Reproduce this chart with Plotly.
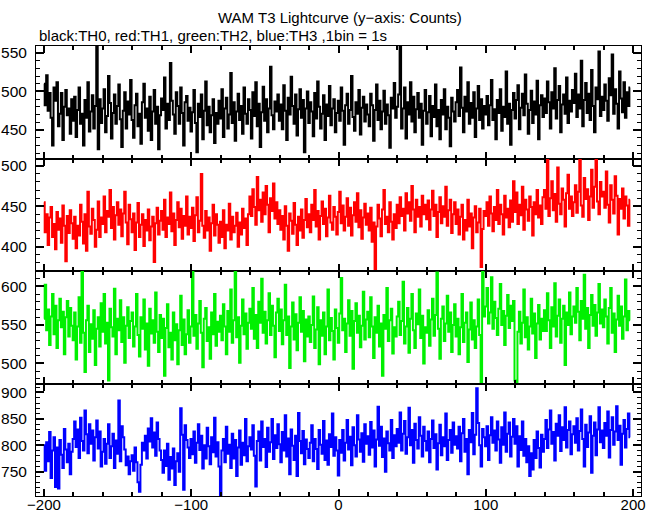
import numpy as np
import plotly.graph_objects as go

T_START = -200  # first bin time (s), 1 bin = 1 s

th0 = [
510, 482, 521, 475, 498, 466, 430, 505, 488, 512, 455, 471, 498, 437, 480, 502, 469, 478, 445, 490,
462, 493, 441, 476, 505, 458, 471, 430, 489, 466, 512, 448, 474, 495, 452, 481, 562, 425, 490, 459,
478, 503, 447, 468, 520, 485, 439, 472, 496, 458, 481, 509, 464, 428, 475, 499, 452, 487, 470, 515,
463, 440, 482, 497, 455, 471, 432, 486, 510, 466, 478, 449, 493, 437, 474, 502, 458, 480, 425, 469,
491, 476, 518, 452, 484, 463, 537, 488, 470, 445, 499, 481, 458, 505, 472, 430, 486, 494, 462, 479,
448, 473, 502, 459, 421, 484, 467, 496, 438, 475, 513, 456, 480, 447, 469, 490, 433, 472, 458, 488,
465, 503, 441, 478, 492, 452, 470, 524, 459, 486, 436, 474, 497, 463, 481, 445, 505, 471, 458, 490,
476, 439, 499, 468, 512, 455, 484, 428, 473, 506, 462, 490, 447, 478, 532, 469, 451, 487, 474, 496,
462, 483, 451, 508, 475, 437, 492, 470, 519, 481, 458, 496, 443, 477, 503, 466, 489, 421, 478, 500,
459, 486, 474, 442, 498, 465, 513, 480, 452, 471, 495, 437, 483, 468, 507, 456, 478, 490, 447, 472,
488, 462, 505, 475, 431, 482, 497, 458, 476, 520, 467, 449, 486, 471, 502, 444, 479, 493, 461, 483,
470, 455, 497, 482, 436, 476, 509, 463, 488, 451, 474, 501, 458, 483, 469, 427, 492, 478, 511, 466,
480, 496, 563, 452, 478, 505, 439, 486, 470, 512, 461, 493, 447, 477, 498, 466, 484, 431, 475, 502,
458, 473, 494, 442, 481, 467, 509, 455, 476, 438, 489, 470, 503, 451, 480, 466, 429, 492, 474, 461,
486, 502, 468, 531, 479, 447, 493, 474, 512, 458, 485, 466, 499, 441, 478, 507, 463, 490, 452, 481,
470, 494, 456, 482, 515, 463, 477, 438, 489, 472, 503, 449, 480, 467, 526, 458, 484, 431, 476, 498,
465, 489, 508, 451, 479, 497, 469, 522, 484, 445, 476, 501, 459, 487, 470, 514, 438, 482, 495, 467,
491, 472, 513, 486, 452, 499, 478, 530, 465, 489, 507, 447, 483, 496, 471, 518, 459, 488, 474, 502,
485, 523, 467, 496, 478, 540, 455, 489, 511, 472, 497, 463, 528, 481, 447, 505, 490, 552, 468, 493,
476, 509, 488, 462, 517, 495, 548, 471, 503, 484, 452, 526, 491, 473, 512, 466, 499, 481, 505,
]

th1 = [
455, 418, 440, 402, 436, 449, 412, 428, 397, 443, 421, 435, 405, 451, 426, 382, 438, 417, 445, 429,
410, 437, 398, 426, 414, 452, 431, 404, 440, 395, 468, 425, 416, 447, 433, 400, 421, 456, 412, 436,
428, 462, 418, 444, 437, 470, 423, 449, 409, 439, 455, 427, 446, 413, 441, 468, 430, 403, 452, 434,
418, 441, 396, 430, 454, 412, 427, 440, 401, 433, 420, 446, 408, 425, 437, 381, 429, 448, 415, 432,
444, 421, 458, 412, 436, 428, 467, 419, 441, 402, 433, 455, 424, 447, 410, 438, 426, 462, 415, 437,
423, 448, 407, 439, 461, 418, 432, 490, 426, 411, 444, 420, 436, 395, 429, 452, 414, 440, 427, 405,
431, 412, 445, 398, 427, 420, 453, 409, 437, 418, 426, 442, 400, 430, 415, 447, 423, 435, 402, 440,
462, 438, 471, 449, 427, 486, 445, 458, 431, 467, 440, 475, 452, 418, 460, 444, 478, 435, 455, 428,
445, 421, 438, 409, 450, 426, 395, 441, 432, 416, 454, 427, 402, 437, 420, 446, 411, 433, 459, 424,
440, 418, 452, 433, 470, 425, 444, 409, 438, 456, 428, 447, 413, 436, 463, 430, 421, 449, 437, 415,
443, 468, 429, 451, 420, 437, 460, 426, 448, 414, 439, 455, 431, 466, 424, 445, 410, 436, 453, 427,
441, 420, 448, 406, 430, 372, 425, 452, 435, 413, 446, 470, 428, 437, 418, 455, 431, 409, 440, 423,
452, 429, 461, 438, 447, 420, 466, 441, 455, 432, 475, 446, 418, 458, 437, 449, 425, 463, 440, 452,
434, 457, 421, 446, 469, 438, 452, 412, 443, 461, 429, 450, 437, 474, 426, 445, 458, 417, 440, 455,
428, 446, 415, 437, 452, 409, 433, 420, 458, 425, 441, 398, 436, 450, 418, 430, 447, 375, 422, 444,
438, 455, 426, 462, 441, 419, 449, 433, 470, 428, 452, 440, 415, 463, 436, 447, 424, 457, 431, 481,
443, 467, 428, 452, 439, 474, 421, 458, 446, 432, 462, 449, 414, 455, 440, 470, 436, 451, 428, 461,
470, 447, 512, 438, 460, 481, 445, 465, 431, 498, 453, 440, 472, 458, 425, 466, 489, 447, 462, 438,
455, 476, 442, 468, 510, 451, 437, 485, 459, 471, 433, 462, 495, 448, 474, 512, 456, 440, 480, 462,
468, 448, 493, 452, 430, 476, 458, 441, 487, 463, 415, 459, 447, 472, 435, 462, 451, 426, 458,
]

th2 = [
558, 602, 543, 570, 524, 561, 590, 538, 575, 520, 556, 584, 547, 567, 512, 560, 581, 535, 572, 549,
530, 566, 505, 548, 586, 527, 621, 540, 489, 556, 575, 515, 551, 532, 569, 498, 545, 560, 522, 578,
541, 590, 526, 553, 478, 571, 547, 535, 597, 512, 558, 543, 582, 528, 560, 501, 549, 573, 533, 555,
566, 522, 548, 590, 537, 509, 560, 545, 583, 518, 552, 497, 571, 539, 556, 527, 592, 541, 515, 563,
533, 558, 484, 546, 577, 521, 540, 505, 566, 530, 551, 499, 543, 588, 524, 557, 512, 538, 569, 527,
548, 621, 536, 563, 519, 552, 581, 540, 495, 558, 572, 529, 547, 506, 566, 538, 590, 523, 554, 541,
562, 530, 577, 548, 512, 568, 541, 596, 527, 556, 620, 534, 560, 501, 549, 583, 538, 565, 519, 553,
571, 545, 598, 532, 563, 520, 580, 553, 610, 540, 567, 526, 556, 591, 537, 575, 549, 508, 566, 584,
542, 570, 525, 556, 602, 537, 561, 494, 548, 579, 531, 564, 517, 553, 586, 541, 568, 503, 557, 535,
561, 528, 550, 587, 520, 544, 573, 499, 556, 536, 566, 512, 548, 596, 530, 559, 542, 505, 570, 546,
527, 565, 611, 543, 558, 515, 552, 582, 536, 568, 493, 555, 578, 540, 562, 521, 549, 593, 531, 557,
567, 534, 586, 548, 507, 560, 540, 575, 522, 552, 484, 563, 545, 598, 529, 556, 571, 513, 547, 535,
561, 580, 537, 555, 606, 526, 548, 572, 514, 558, 590, 543, 520, 565, 551, 596, 533, 562, 500, 547,
540, 569, 523, 557, 584, 536, 563, 618, 545, 506, 558, 574, 529, 552, 588, 541, 566, 515, 550, 577,
535, 558, 512, 547, 590, 528, 553, 566, 502, 544, 579, 531, 556, 520, 548, 583, 537, 470, 620, 561,
574, 598, 552, 566, 612, 545, 580, 559, 537, 571, 603, 550, 568, 524, 562, 589, 546, 575, 555, 581,
478, 470, 541, 567, 526, 553, 596, 534, 560, 518, 548, 584, 539, 565, 507, 552, 576, 531, 558, 542,
569, 542, 591, 556, 520, 573, 548, 604, 535, 562, 583, 527, 558, 575, 498, 566, 550, 592, 538, 561,
574, 553, 598, 567, 530, 581, 558, 615, 545, 572, 520, 563, 589, 549, 576, 536, 566, 603, 552, 570,
547, 583, 561, 526, 572, 598, 540, 565, 515, 557, 588, 549, 574, 532, 561, 609, 543, 568, 556,
]

th3 = [
800, 752, 806, 770, 825, 738, 790, 815, 721, 796, 718, 810, 782, 757, 831, 792, 768, 803, 745, 788,
812, 845, 797, 830, 776, 852, 808, 790, 866, 821, 785, 840, 803, 828, 771, 815, 847, 794, 826, 760,
788, 812, 765, 803, 840, 776, 798, 822, 757, 809, 784, 885, 770, 836, 815, 792, 762, 779, 745, 770,
781, 752, 796, 768, 730, 712, 763, 805, 790, 818, 775, 832, 807, 851, 796, 824, 780, 843, 812, 790,
772, 748, 790, 761, 803, 735, 778, 756, 794, 725, 770, 785, 750, 870, 820, 716, 838, 810, 796, 776,
812, 783, 826, 767, 805, 840, 791, 818, 756, 800, 775, 833, 798, 764, 815, 787, 852, 779, 806, 760,
706, 790, 812, 768, 835, 784, 801, 757, 822, 775, 810, 742, 796, 828, 763, 805, 781, 850, 770, 798,
815, 792, 838, 780, 722, 808, 826, 771, 845, 797, 812, 759, 833, 788, 806, 850, 774, 819, 795, 840,
802, 768, 825, 790, 857, 779, 813, 745, 830, 799, 772, 818, 742, 861, 808, 785, 827, 764, 811, 793,
776, 805, 838, 770, 812, 793, 755, 829, 801, 784, 846, 772, 809, 763, 821, 797, 860, 780, 815, 790,
743, 810, 786, 829, 771, 805, 848, 792, 816, 762, 834, 800, 779, 857, 811, 788, 823, 769, 840, 803,
817, 782, 844, 796, 828, 760, 811, 873, 799, 835, 778, 813, 750, 826, 804, 790, 848, 776, 819, 798,
831, 805, 862, 790, 822, 846, 784, 815, 871, 800, 829, 767, 841, 810, 794, 853, 818, 779, 835, 808,
790, 826, 768, 812, 847, 795, 821, 754, 804, 839, 781, 815, 798, 860, 772, 810, 829, 786, 843, 801,
817, 794, 835, 770, 823, 850, 788, 812, 745, 829, 806, 861, 783, 820, 908, 842, 800, 760, 831, 815,
798, 836, 772, 819, 853, 805, 828, 790, 845, 811, 767, 834, 801, 862, 788, 822, 843, 779, 816, 850,
803, 836, 760, 817, 791, 845, 780, 812, 768, 798, 742, 785, 754, 810, 776, 826, 795, 758, 820, 788,
812, 848, 795, 830, 866, 803, 825, 771, 841, 818, 857, 789, 834, 810, 872, 796, 829, 845, 783, 821,
836, 805, 851, 790, 827, 868, 812, 760, 839, 797, 824, 855, 748, 818, 843, 781, 830, 872, 806, 828,
795, 842, 818, 864, 777, 829, 853, 801, 826, 874, 810, 837, 763, 822, 848, 796, 831, 860, 815,
]

series = [th0, th1, th2, th3]
colors = ["#000000", "#ff0000", "#00f000", "#0000ff"]
y_ranges = [[413, 559], [370, 509], [474, 620], [704, 917]]
x_range = [-205.4, 205.4]
x_ticks = [-200, -100, 0, 100, 200]

TITLE = "WAM T3 Lightcurve (y\u2212axis: Counts)"
SUBTITLE = "black:TH0, red:TH1, green:TH2, blue:TH3 ,1bin = 1s"

FONT = "Liberation Sans, Arial, sans-serif"

fig = go.Figure()
n = len(series)
for i, (vals, col) in enumerate(zip(series, colors)):
    t = T_START + np.arange(len(vals))
    suffix = "" if i == 0 else str(i + 1)
    fig.add_trace(go.Scatter(
        x=t, y=vals, mode="lines", line=dict(color=col, width=2, shape="hvh"),
        xaxis="x" + suffix, yaxis="y" + suffix, showlegend=False, hoverinfo="skip",
    ))

layout = dict(
    width=660, height=515,
    margin=dict(l=36, r=19, t=46, b=19),
    paper_bgcolor="white", plot_bgcolor="white",
    font=dict(family=FONT, size=15, color="black"),
    showlegend=False,
)

for i in range(n):
    suffix = "" if i == 0 else str(i + 1)
    top = 1 - i / n
    bottom = 1 - (i + 1) / n
    layout["yaxis" + suffix] = dict(
        domain=[bottom, top], range=y_ranges[i], anchor="x" + suffix,
        showline=True, linecolor="black", linewidth=1, mirror="allticks",
        ticks="inside", ticklen=8, tickwidth=1.5, tickcolor="black",
        dtick=50, tick0=0, showgrid=False, zeroline=False, automargin=False,
        ticklabelstandoff=5,
        minor=dict(ticks="inside", ticklen=4, tickwidth=1, tickcolor="black", dtick=10, showgrid=False),
        tickfont=dict(family=FONT, size=15.5, color="black"),
    )
    layout["xaxis" + suffix] = dict(
        range=x_range, anchor="y" + suffix,
        showline=True, linecolor="black", linewidth=1, mirror="allticks",
        ticks="inside", ticklen=7, tickwidth=2, tickcolor="black",
        tickvals=x_ticks, showgrid=False, zeroline=False, automargin=False,
        showticklabels=(i == n - 1), ticklabelstandoff=-5,
        minor=dict(ticks="inside", ticklen=4, tickwidth=1.5, tickcolor="black", dtick=20, tick0=0, showgrid=False),
        tickfont=dict(family=FONT, size=15, color="black"),
    )

layout["annotations"] = [
    dict(text=TITLE, xref="paper", yref="paper", x=0.503, y=1, yshift=29,
         xanchor="center", yanchor="middle", showarrow=False,
         font=dict(family=FONT, size=15, color="black")),
    dict(text=SUBTITLE, xref="paper", yref="paper", x=0, y=1, yshift=11, xshift=1,
         xanchor="left", yanchor="middle", showarrow=False,
         font=dict(family=FONT, size=15, color="black")),
]

fig.update_layout(**layout)
fig.write_html("out.html", config={"displayModeBar": False},
               post_script="document.body.style.margin='0px';")
